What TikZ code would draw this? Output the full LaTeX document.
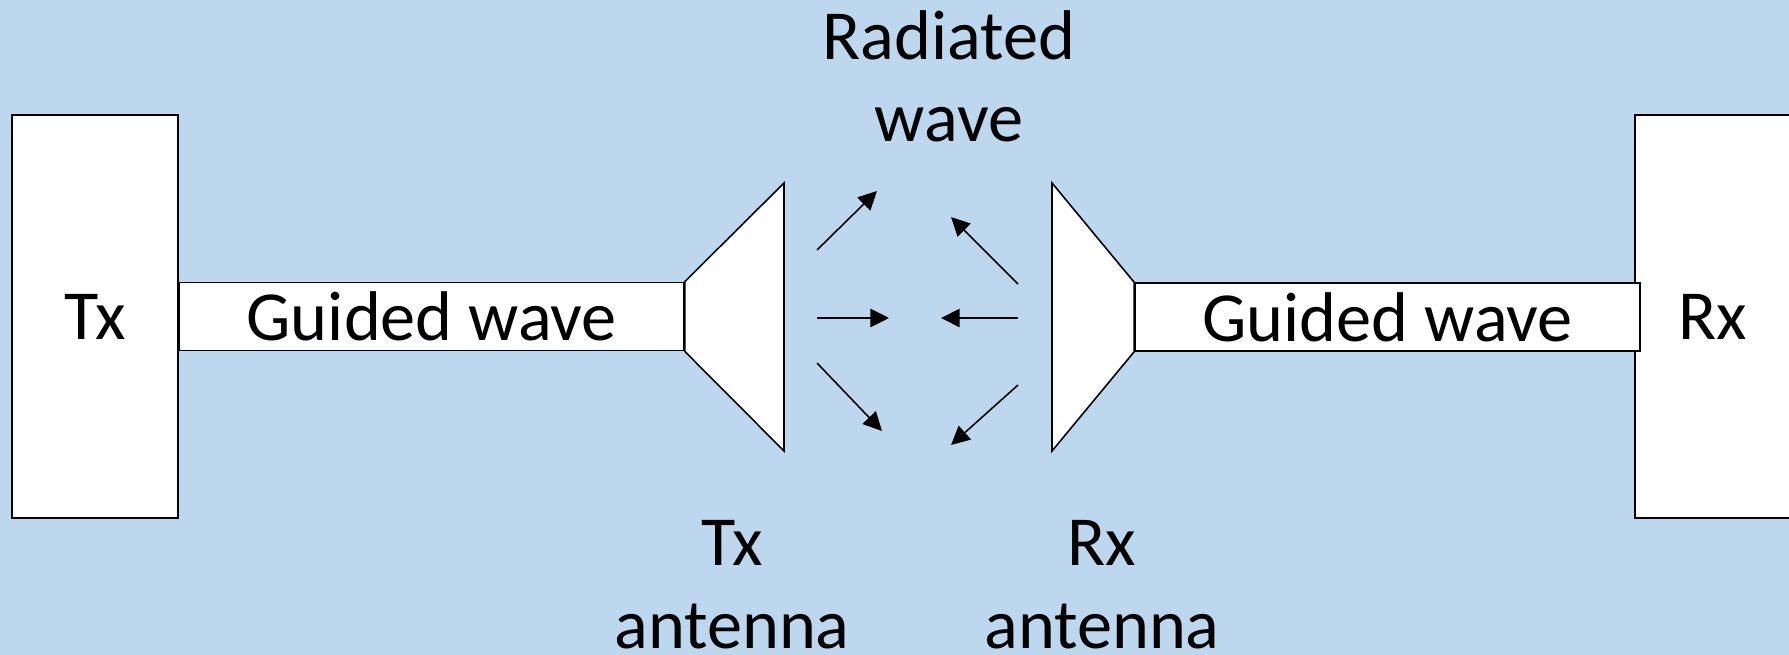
\documentclass[tikz,border=0pt]{standalone}
\usepackage{fontspec}
\setmainfont{Carlito}
\usepackage{xcolor}
\usetikzlibrary{arrows.meta,positioning}
\definecolor{skyback}{RGB}{189,215,238}

\begin{document}
\begin{tikzpicture}[
  x=0.01cm, y=-0.01cm,
  font=\fontsize{20}{23.5}\selectfont,
  unit/.style={draw, fill=white, line width=0.45pt, inner sep=0pt, minimum width=1.66cm, minimum height=4.03cm},
  guide/.style={draw, fill=white, line width=0.45pt, inner sep=0pt, minimum width=5.04cm, minimum height=0.68cm},
  horn/.style={draw, fill=white, line width=0.45pt, line join=miter},
  wave/.style={-{Triangle[length=5.3pt, width=5.2pt]}, line width=0.45pt},
  lbl/.style={align=center, anchor=base, inner sep=0pt}
]
\useasboundingbox (0,0) rectangle (1789,655);
\fill[skyback] (0,0) rectangle (1789,655);

% transmitter and receiver
\node[unit] (tx) at (95,316.5) {Tx};
\node[unit, minimum width=1.56cm] (rx) at (1713,316.5) {Rx};

% feed lines
\node[guide, right=0pt of tx] (gtx) {Guided wave};
\node[guide, minimum width=5.05cm] (grx) at (1387.5,317) {Guided wave};

% horn antennas
\coordinate (txmouthtop) at (784,183);
\coordinate (txmouthbot) at (784,451);
\coordinate (rxmouthtop) at (1052,183);
\coordinate (rxmouthbot) at (1052,451);
\draw[horn] (gtx.north east) -- (txmouthtop) -- (txmouthbot) -- (gtx.south east) -- cycle;
\draw[horn] (grx.north west) -- (rxmouthtop) -- (rxmouthbot) -- (grx.south west) -- cycle;

% radiated rays
\foreach \i/\xa/\ya/\xb/\yb in {1/817/250/877/191, 2/817/318/889/318, 3/817/363/882/431,
                                4/1018/284/951/217, 5/1018/318/941/318, 6/1018/385/951/445}{
  \coordinate (ray\i a) at (\xa,\ya);
  \coordinate (ray\i b) at (\xb,\yb);
  \draw[wave] (ray\i a) -- (ray\i b);
}

% labels (base = last line)
\node[lbl] (radiated) at (949,142) {Radiated\\wave};
\node[lbl] (txant) at (732,648) {Tx\\antenna};
\node[lbl] (rxant) at (1102,648) {Rx\\antenna};
\end{tikzpicture}
\end{document}
